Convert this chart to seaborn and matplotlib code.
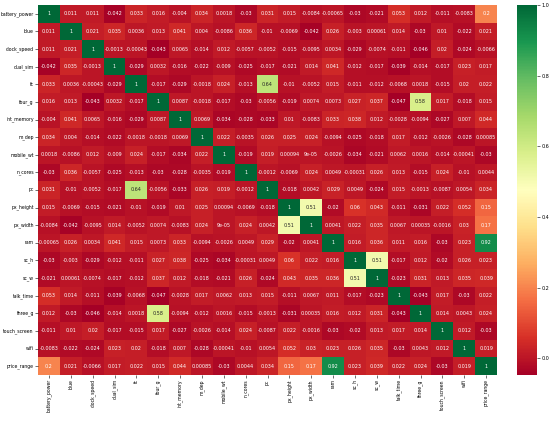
import matplotlib
matplotlib.use('Agg')
import matplotlib.pyplot as plt
import numpy as np
import pandas as pd
import seaborn as sns

# column / row labels
labels = ['battery_power', 'blue', 'clock_speed', 'dual_sim', 'fc', 'four_g',
          'int_memory', 'm_dep', 'mobile_wt', 'n_cores', 'pc', 'px_height',
          'px_width', 'ram', 'sc_h', 'sc_w', 'talk_time', 'three_g',
          'touch_screen', 'wifi', 'price_range']

# correlation rows
battery_power = [1, 0.011, 0.011, -0.042, 0.033, 0.016, -0.004, 0.034, 0.0018, -0.03, 0.031,
                 0.015, -0.0084, -0.00065, -0.03, -0.021, 0.053, 0.012, -0.011, -0.0083, 0.2]
blue = [0.011, 1, 0.021, 0.035, 0.0036, 0.013, 0.041, 0.004, -0.0086, 0.036, -0.01,
        -0.0069, -0.042, 0.026, -0.003, 0.00061, 0.014, -0.03, 0.01, -0.022, 0.021]
clock_speed = [0.011, 0.021, 1, -0.0013, -0.00043, -0.043, 0.0065, -0.014, 0.012, -0.0057, -0.0052,
               -0.015, -0.0095, 0.0034, -0.029, -0.0074, -0.011, -0.046, 0.02, -0.024, -0.0066]
dual_sim = [-0.042, 0.035, -0.0013, 1, -0.029, 0.0032, -0.016, -0.022, -0.009, -0.025, -0.017,
            -0.021, 0.014, 0.041, -0.012, -0.017, -0.039, -0.014, -0.017, 0.023, 0.017]
fc = [0.033, 0.0036, -0.00043, -0.029, 1, -0.017, -0.029, -0.0018, 0.024, -0.013, 0.64,
      -0.01, -0.0052, 0.015, -0.011, -0.012, -0.0068, 0.0018, -0.015, 0.02, 0.022]
four_g = [0.016, 0.013, -0.043, 0.0032, -0.017, 1, 0.0087, -0.0018, -0.017, -0.03, -0.0056,
          -0.019, 0.0074, 0.0073, 0.027, 0.037, -0.047, 0.58, 0.017, -0.018, 0.015]
int_memory = [-0.004, 0.041, 0.0065, -0.016, -0.029, 0.0087, 1, 0.0069, -0.034, -0.028, -0.033,
              0.01, -0.0083, 0.033, 0.038, 0.012, -0.0028, -0.0094, -0.027, 0.007, 0.044]
m_dep = [0.034, 0.004, -0.014, -0.022, -0.0018, -0.0018, 0.0069, 1, 0.022, -0.0035, 0.026,
         0.025, 0.024, -0.0094, -0.025, -0.018, 0.017, -0.012, -0.0026, -0.028, 0.00085]
mobile_wt = [0.0018, -0.0086, 0.012, -0.009, 0.024, -0.017, -0.034, 0.022, 1, -0.019, 0.019,
             0.00094, 9e-05, -0.0026, -0.034, -0.021, 0.0062, 0.0016, -0.014, -0.00041, -0.03]
n_cores = [-0.03, 0.036, -0.0057, -0.025, -0.013, -0.03, -0.028, -0.0035, -0.019, 1, -0.0012,
           -0.0069, 0.024, 0.0049, -0.00031, 0.026, 0.013, -0.015, 0.024, -0.01, 0.0044]
pc = [0.031, -0.01, -0.0052, -0.017, 0.64, -0.0056, -0.033, 0.026, 0.019, -0.0012, 1,
      -0.018, 0.0042, 0.029, 0.0049, -0.024, 0.015, -0.0013, -0.0087, 0.0054, 0.034]
px_height = [0.015, -0.0069, -0.015, -0.021, -0.01, -0.019, 0.01, 0.025, 0.00094, -0.0069, -0.018,
             1, 0.51, -0.02, 0.06, 0.043, -0.011, -0.031, 0.022, 0.052, 0.15]
px_width = [-0.0084, -0.042, -0.0095, 0.014, -0.0052, 0.0074, -0.0083, 0.024, 9e-05, 0.024, 0.0042,
            0.51, 1, 0.0041, 0.022, 0.035, 0.0067, 0.00035, -0.0016, 0.03, 0.17]
ram = [-0.00065, 0.026, 0.0034, 0.041, 0.015, 0.0073, 0.033, -0.0094, -0.0026, 0.0049, 0.029,
       -0.02, 0.0041, 1, 0.016, 0.036, 0.011, 0.016, -0.03, 0.023, 0.92]
sc_h = [-0.03, -0.003, -0.029, -0.012, -0.011, 0.027, 0.038, -0.025, -0.034, -0.00031, 0.0049,
        0.06, 0.022, 0.016, 1, 0.51, -0.017, 0.012, -0.02, 0.026, 0.023]
sc_w = [-0.021, 0.00061, -0.0074, -0.017, -0.012, 0.037, 0.012, -0.018, -0.021, 0.026, -0.024,
        0.043, 0.035, 0.036, 0.51, 1, -0.023, 0.031, 0.013, 0.035, 0.039]
talk_time = [0.053, 0.014, -0.011, -0.039, -0.0068, -0.047, -0.0028, 0.017, 0.0062, 0.013, 0.015,
             -0.011, 0.0067, 0.011, -0.017, -0.023, 1, -0.043, 0.017, -0.03, 0.022]
three_g = [0.012, -0.03, -0.046, -0.014, 0.0018, 0.58, -0.0094, -0.012, 0.0016, -0.015, -0.0013,
           -0.031, 0.00035, 0.016, 0.012, 0.031, -0.043, 1, 0.014, 0.0043, 0.024]
touch_screen = [-0.011, 0.01, 0.02, -0.017, -0.015, 0.017, -0.027, -0.0026, -0.014, 0.024, -0.0087,
                0.022, -0.0016, -0.03, -0.02, 0.013, 0.017, 0.014, 1, 0.012, -0.03]
wifi = [-0.0083, -0.022, -0.024, 0.023, 0.02, -0.018, 0.007, -0.028, -0.00041, -0.01, 0.0054,
        0.052, 0.03, 0.023, 0.026, 0.035, -0.03, 0.0043, 0.012, 1, 0.019]
price_range = [0.2, 0.021, -0.0066, 0.017, 0.022, 0.015, 0.044, 0.00085, -0.03, 0.0044, 0.034,
               0.15, 0.17, 0.92, 0.023, 0.039, 0.022, 0.024, -0.03, 0.019, 1]

rows = [battery_power, blue, clock_speed, dual_sim, fc, four_g, int_memory, m_dep,
        mobile_wt, n_cores, pc, px_height, px_width, ram, sc_h, sc_w, talk_time,
        three_g, touch_screen, wifi, price_range]
corr = pd.DataFrame(rows, index=labels, columns=labels)

#----------------------------------------
# figure, 551x429 px
#----------------------------------------
fig = plt.figure(figsize=(5.51, 4.29), dpi=100)
ax = fig.add_axes([38/551, 54/429, 459/551, 370/429])
cax = fig.add_axes([517/551, 54/429, 20/551, 370/429])

sns.heatmap(corr, annot=True, cmap='RdYlGn', fmt='.2g', ax=ax, cbar_ax=cax,
            annot_kws={'fontsize': 3.5})

ax.tick_params(axis='both', labelsize=3.3, length=2, width=0.4, pad=1)
ax.set_xticklabels(labels, rotation=90)
ax.set_yticklabels(labels, rotation=0)
cax.tick_params(labelsize=3.5, length=2, width=0.4, pad=1)
cax.set_yticks([0.0, 0.2, 0.4, 0.6, 0.8, 1.0])

plt.savefig('out.png', dpi=100)
